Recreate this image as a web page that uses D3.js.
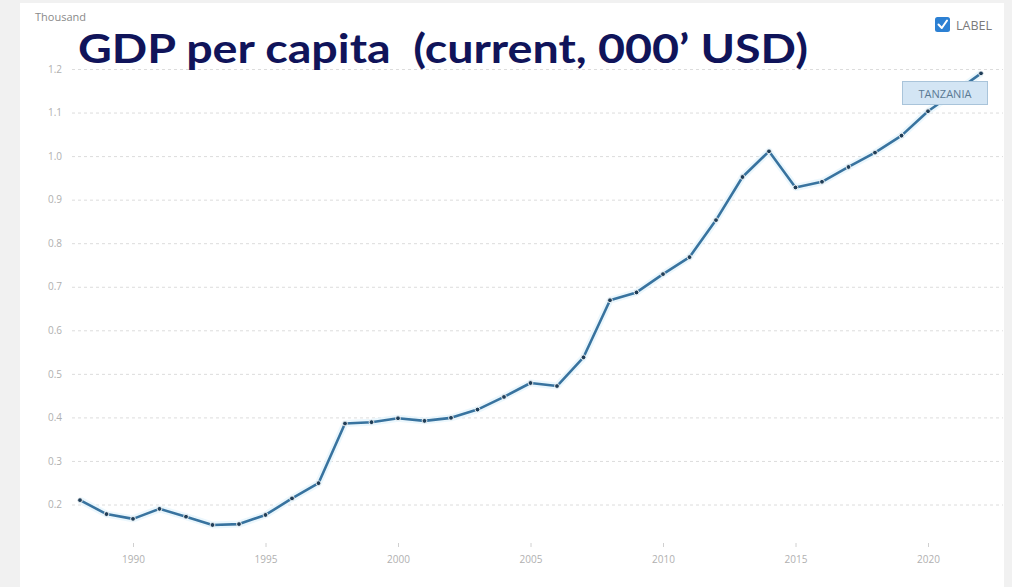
<!DOCTYPE html>
<html>
<head>
<meta charset="utf-8">
<script src="https://cdn.jsdelivr.net/npm/d3@7/dist/d3.min.js"></script>
<style>
  html, body { margin: 0; padding: 0; background: #f1f1f1; }
  svg { display: block; }
</style>
</head>
<body>
<svg id="chart" width="1012" height="587"></svg>
<script>
// GDP per capita, Tanzania (current US$, thousands)
const years = [1988, 1989, 1990, 1991, 1992, 1993, 1994, 1995, 1996, 1997,
               1998, 1999, 2000, 2001, 2002, 2003, 2004, 2005, 2006, 2007,
               2008, 2009, 2010, 2011, 2012, 2013, 2014, 2015, 2016, 2017,
               2018, 2019, 2020, 2021, 2022];
const gdpPerCapita = [0.210, 0.178, 0.167, 0.190, 0.172, 0.153, 0.155, 0.176, 0.214, 0.249,
                      0.386, 0.389, 0.398, 0.392, 0.399, 0.418, 0.447, 0.479, 0.472, 0.538,
                      0.669, 0.687, 0.729, 0.768, 0.853, 0.952, 1.011, 0.928, 0.941, 0.975,
                      1.008, 1.047, 1.103, 1.146, 1.190];
const yTicks = [0.2, 0.3, 0.4, 0.5, 0.6, 0.7, 0.8, 0.9, 1.0, 1.1, 1.2];
const xTicks = [1990, 1995, 2000, 2005, 2010, 2015, 2020];
const seriesName = "TANZANIA";

const svg = d3.select("#chart");

// white card
svg.append("rect").attr("x", 20).attr("y", 3).attr("width", 984).attr("height", 584).attr("fill", "#ffffff");

const x = d3.scaleLinear().domain([1988, 2022]).range([80, 981]);
const y = d3.scaleLinear().domain([0.2, 1.2]).range([504.5, 69]);

// horizontal dashed grid + y labels
const yAxis = d3.axisLeft(y).tickValues(yTicks).tickFormat(d3.format(".1f"))
  .tickSize(-931).tickPadding(10);
const gy = svg.append("g").attr("transform", "translate(72,0)").call(yAxis);
gy.select(".domain").remove();
gy.selectAll(".tick line").attr("stroke", "#dcdcdc").attr("stroke-dasharray", "3,3").attr("stroke-width", 1);
gy.selectAll(".tick text").attr("fill", "#b0b0b0").attr("font-family", "Open Sans, sans-serif").attr("font-size", 10);

// x axis ticks and labels
const xAxis = d3.axisBottom(x).tickValues(xTicks).tickFormat(d3.format("d")).tickSize(4).tickPadding(9);
const gx = svg.append("g").attr("transform", "translate(0,543)").call(xAxis);
gx.select(".domain").remove();
gx.selectAll(".tick line").attr("stroke", "#d0d0d0");
gx.selectAll(".tick text").attr("fill", "#b0b0b0").attr("font-family", "Open Sans, sans-serif").attr("font-size", 10);

// unit label
svg.append("text").attr("x", 35).attr("y", 21).text("Thousand")
  .attr("fill", "#8a8a8a").attr("font-family", "Open Sans, sans-serif").attr("font-size", 11);

// series line
const pts = years.map((yr, i) => [yr, gdpPerCapita[i]]);
const line = d3.line().x(d => x(d[0])).y(d => y(d[1]));
svg.append("path").datum(pts).attr("d", line)
  .attr("fill", "none").attr("stroke", "#e6f5fc").attr("stroke-width", 7)
  .attr("stroke-linejoin", "round").attr("opacity", 0.8);
svg.append("path").datum(pts).attr("d", line)
  .attr("fill", "none").attr("stroke", "#38739f").attr("stroke-width", 2.6)
  .attr("stroke-linejoin", "round");
svg.append("g").selectAll("circle").data(pts).join("circle")
  .attr("cx", d => x(d[0])).attr("cy", d => y(d[1])).attr("r", 2.4)
  .attr("fill", "#1f3d57").attr("stroke", "#f4f8fb").attr("stroke-width", 0.9);

// series label box near the end of the line
const lg = svg.append("g");
lg.append("rect").attr("x", 902.5).attr("y", 81.5).attr("width", 85).attr("height", 23)
  .attr("fill", "#d3e5f4").attr("stroke", "#a9c4da").attr("stroke-width", 1);
lg.append("text").attr("x", 945).attr("y", 97.5).attr("text-anchor", "middle").text(seriesName)
  .attr("fill", "#5b7a94").attr("font-family", "Open Sans, sans-serif").attr("font-size", 11);

// LABEL checkbox
const cb = svg.append("g");
cb.append("rect").attr("x", 935).attr("y", 17).attr("width", 15).attr("height", 15).attr("rx", 2.5)
  .attr("fill", "#2c80d3");
cb.append("path").attr("d", "M938.5,24.5 L941.8,28 L947,20.5")
  .attr("fill", "none").attr("stroke", "#ffffff").attr("stroke-width", 2).attr("stroke-linecap", "round").attr("stroke-linejoin", "round");
cb.append("text").attr("x", 956).attr("y", 29.5).text("LABEL")
  .attr("fill", "#7a7a7a").attr("font-family", "Open Sans, sans-serif").attr("font-size", 12.5);

// title
svg.append("text").attr("x", 78).attr("y", 63)
  .text("GDP per capita  (current, 000\u2019 USD)")
  .attr("fill", "#10145a").attr("font-family", "Lato, sans-serif").attr("font-weight", "bold")
  .attr("font-size", 41).attr("textLength", 730).attr("lengthAdjust", "spacingAndGlyphs")
  .style("white-space", "pre");
</script>
</body>
</html>
